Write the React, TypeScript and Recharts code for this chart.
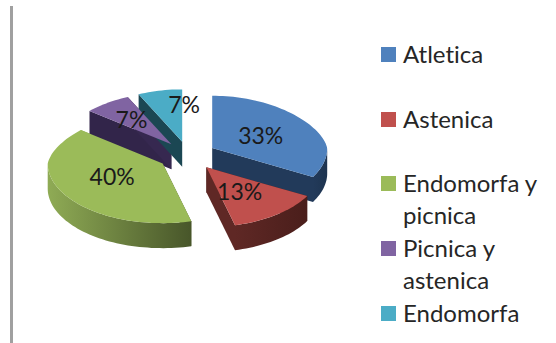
import { Legend, Pie, PieChart } from "recharts";

const categories = ["Atletica", "Astenica", "Endomorfa y picnica", "Picnica y astenica", "Endomorfa"];
const values = [33, 13, 40, 7, 7];
const topColors = ["#4f81bd", "#c0504d", "#9bbb59", "#8064a2", "#4bacc6"];
const sideLight = ["#223a5a", "#5f2825", "#8fab55", "#362850", "#1d4c5a"];
const sideDark = ["#1e3450", "#4a1e1b", "#48562a", "#32254a", "#1b4753"];

const rows = categories.map((name, i) => ({
  name,
  value: values[i],
  fill: topColors[i],
  idx: i,
}));

// extrusion and tilt of the 3d look
const DEPTH = 25;
const EXPLODE = 30;
const BACK_SQUASH = 0.455;
const FRONT_SQUASH = 0.52;
const BACK_NARROW = 0.12;
const FONT = "Lato, 'Open Sans', sans-serif";

const RAD = Math.PI / 180;

// math angle to a point on the tilted disc, the far side drawn a little narrower
function project(cx: number, cy: number, r: number, deg: number, drop = 0) {
  const s = Math.sin(deg * RAD);
  const narrow = s > 0 ? 1 - BACK_NARROW * s : 1;
  return [cx + r * narrow * Math.cos(deg * RAD), cy - r * s * (s > 0 ? BACK_SQUASH : FRONT_SQUASH) + drop];
}

function apex(props: any) {
  const mid = (props.startAngle + props.endAngle) / 2;
  return project(props.cx, props.cy, EXPLODE, mid);
}

function sweep(start: number, end: number) {
  const steps = Math.max(2, Math.ceil(Math.abs(end - start) / 2));
  return Array.from({ length: steps + 1 }, (_, i) => start + ((end - start) * i) / steps);
}

const toPath = (pts: number[][]) => "M" + pts.map((p) => `${p[0].toFixed(1)},${p[1].toFixed(1)}`).join("L") + "Z";

function SliceTop(props: any) {
  const [ax, ay] = apex(props);
  const rim = sweep(props.startAngle, props.endAngle).map((a) => project(ax, ay, props.outerRadius, a));
  return <path d={toPath([[ax, ay], ...rim])} fill={props.fill} />;
}

function SliceSide(props: any) {
  const [ax, ay] = apex(props);
  const r = props.outerRadius;
  const idx = props.idx ?? props.payload?.idx;
  const cut = (deg: number) => {
    const p = project(ax, ay, r, deg);
    return toPath([[ax, ay], p, [p[0], p[1] + DEPTH], [ax, ay + DEPTH]]);
  };
  const front = sweep(props.startAngle, props.endAngle).filter((a) => Math.sin(a * RAD) <= 0);
  const wall = front.map((a) => project(ax, ay, r, a));
  const wallLow = front.map((a) => project(ax, ay, r, a, DEPTH)).reverse();
  return (
    <g>
      <defs>
        <linearGradient id={`wall-${idx}`} x1="0" y1="0" x2="1" y2="0">
          <stop offset="0%" stopColor={sideLight[idx]} />
          <stop offset="100%" stopColor={sideDark[idx]} />
        </linearGradient>
      </defs>
      <path d={cut(props.startAngle)} fill={sideDark[idx]} />
      <path d={cut(props.endAngle)} fill={sideLight[idx]} />
      {wall.length > 1 && <path d={toPath([...wall, ...wallLow])} fill={`url(#wall-${idx})`} />}
    </g>
  );
}

// small shifts so each percentage sits clear of the wedge edges
const labelNudge = [
  [2, 0],
  [-2, 0],
  [-2, -3],
  [-8, -5],
  [13, -12],
];

function SliceLabel(props: any) {
  const { cx, cy, midAngle, outerRadius, value, index } = props;
  const [ax, ay] = project(cx, cy, EXPLODE, midAngle);
  const [x, y] = project(ax, ay, outerRadius * 0.5, midAngle);
  return (
    <text
      x={x + labelNudge[index][0]}
      y={y + labelNudge[index][1]}
      textAnchor="middle"
      dominantBaseline="central"
      fontFamily={FONT}
      fontSize={23}
      fill="#1a1a1a"
    >
      {value}%
    </text>
  );
}

function LegendList() {
  return (
    <div style={{ fontFamily: FONT, fontSize: 24, lineHeight: "32px", color: "#262626", fontVariantLigatures: "none" }}>
      {rows.map((item) => (
        <div key={item.name} style={{ position: "relative", height: 64.7, paddingLeft: 22, boxSizing: "border-box" }}>
          <span
            style={{
              position: "absolute",
              left: 0,
              top: 0,
              width: 15,
              height: 15,
              background: item.fill,
            }}
          />
          <span style={{ position: "relative", top: -9, display: "block" }}>{item.name}</span>
        </div>
      ))}
    </div>
  );
}

export default function App() {
  return (
    <div style={{ position: "absolute", left: 0, top: 0, width: 556, height: 343, background: "#fff" }}>
      <div style={{ position: "absolute", left: 10, top: 6, width: 3, height: 337, background: "#a0a0a0" }} />
      <PieChart width={556} height={343} margin={{ top: 0, right: 0, bottom: 0, left: 0 }}>
        <Pie
          data={rows}
          dataKey="value"
          nameKey="name"
          cx={188}
          cy={155}
          outerRadius={115}
          startAngle={90}
          endAngle={-270}
          stroke="none"
          legendType="none"
          shape={SliceSide}
          isAnimationActive={false}
        />
        <Pie
          data={rows}
          dataKey="value"
          nameKey="name"
          cx={188}
          cy={155}
          outerRadius={115}
          startAngle={90}
          endAngle={-270}
          stroke="none"
          shape={SliceTop}
          label={SliceLabel}
          labelLine={false}
          isAnimationActive={false}
        />
        <Legend
          layout="vertical"
          content={LegendList}
          wrapperStyle={{ left: 381, top: 47, width: 172, bottom: "auto" }}
        />
      </PieChart>
    </div>
  );
}
